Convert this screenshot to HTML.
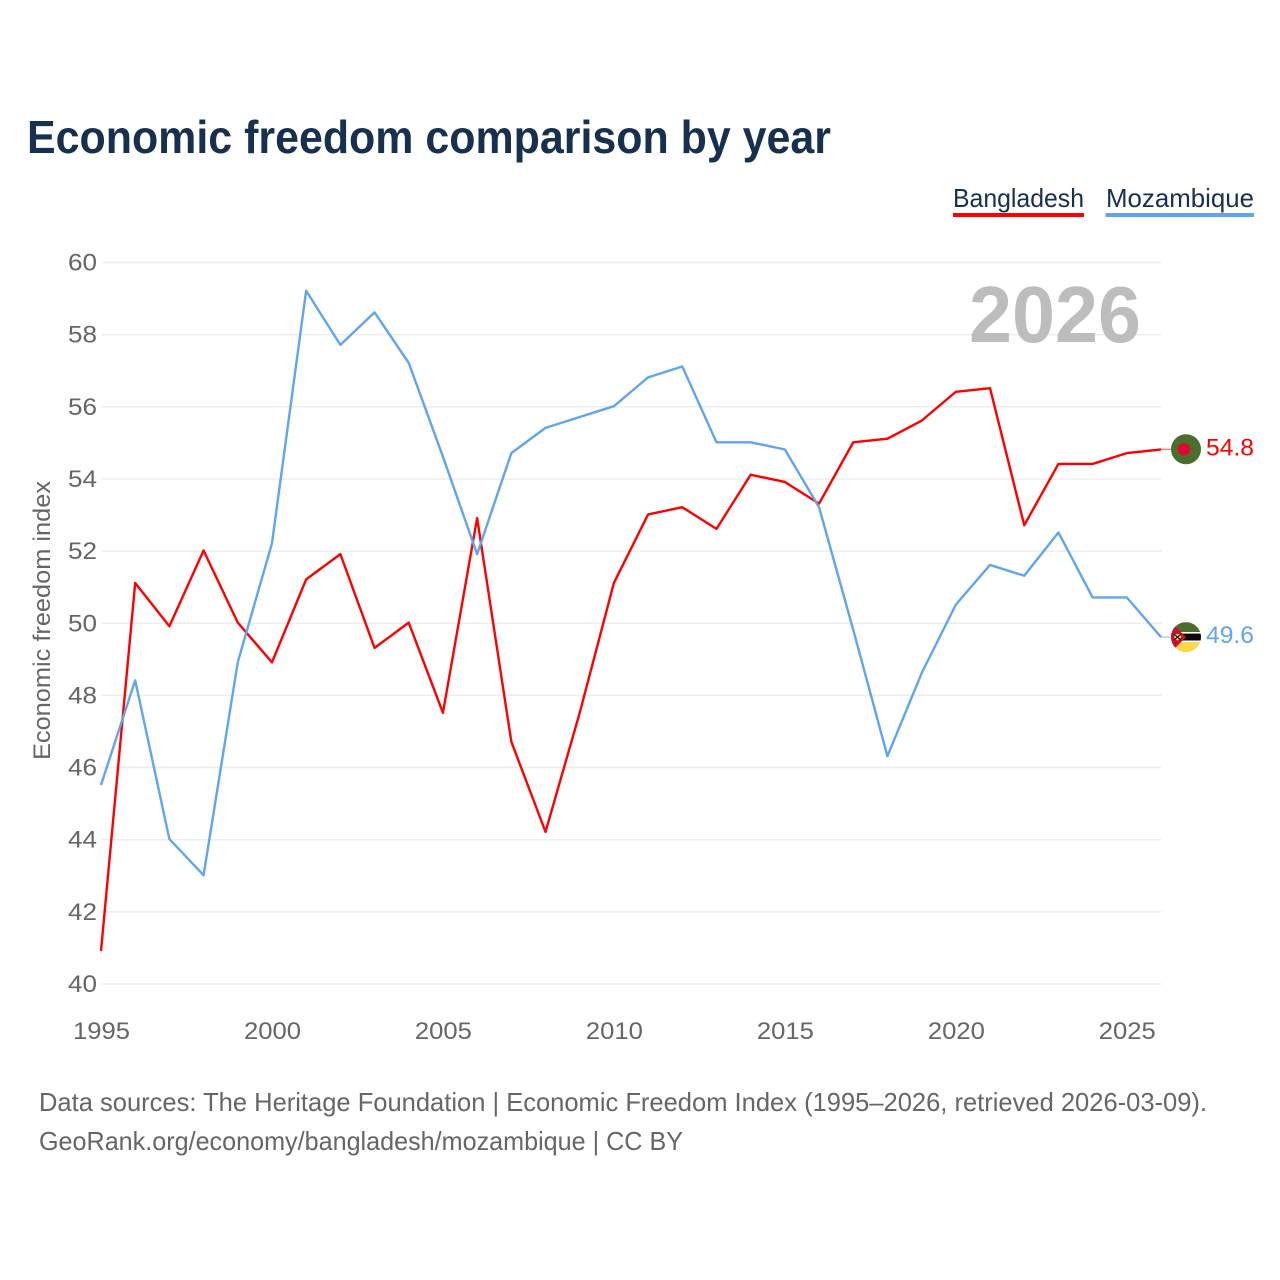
<!DOCTYPE html>
<html>
<head>
<meta charset="utf-8">
<title>Economic freedom comparison by year</title>
<style>
html,body{margin:0;padding:0;background:#fff;}
svg{display:block;}
text{font-family:"Liberation Sans",sans-serif;}
</style>
</head>
<body>
<svg id="chart" xmlns="http://www.w3.org/2000/svg" width="1280" height="1280" viewBox="0 0 1280 1280">
  <rect width="1280" height="1280" fill="#ffffff"/>
  <text x="27" y="153" font-size="46" font-weight="700" fill="#18304f" textLength="804" lengthAdjust="spacingAndGlyphs">Economic freedom comparison by year</text>
  <g>
    <text x="953" y="207" font-size="26" fill="#18304f" textLength="131" lengthAdjust="spacingAndGlyphs">Bangladesh</text>
    <rect x="953" y="213" width="131" height="4" fill="#ff0000"/>
  </g>
  <g>
    <text x="1106" y="207" font-size="26" fill="#18304f" textLength="148" lengthAdjust="spacingAndGlyphs">Mozambique</text>
    <rect x="1105.5" y="213" width="148.5" height="4" fill="#60a5ee"/>
  </g>
  <g id="grid"></g>
  <g id="yticks"></g>
  <g id="xticks"></g>
  <text transform="translate(50,620.5) rotate(-90)" text-anchor="middle" font-size="24" fill="#666666" textLength="279" lengthAdjust="spacingAndGlyphs">Economic freedom index</text>
  <text x="969" y="342" font-size="80" font-weight="700" fill="#bdbdbd" textLength="172" lengthAdjust="spacingAndGlyphs">2026</text>
  <g id="series"></g>
  <g id="ends"></g>
  <text x="39" y="1111" font-size="26" fill="#666666" textLength="1168" lengthAdjust="spacingAndGlyphs">Data sources: The Heritage Foundation | Economic Freedom Index (1995–2026, retrieved 2026-03-09).</text>
  <text x="39" y="1150" font-size="26" fill="#666666" textLength="644" lengthAdjust="spacingAndGlyphs">GeoRank.org/economy/bangladesh/mozambique | CC BY</text>
</svg>
<script>
var years = [1995,1996,1997,1998,1999,2000,2001,2002,2003,2004,2005,2006,2007,2008,2009,2010,2011,2012,2013,2014,2015,2016,2017,2018,2019,2020,2021,2022,2023,2024,2025,2026];
var bangladeshValues = [40.9,51.1,49.9,52,50,48.9,51.2,51.9,49.3,50,47.5,52.9,46.7,44.2,47.5,51.1,53,53.2,52.6,54.1,53.9,53.3,55,55.1,55.6,56.4,56.5,52.7,54.4,54.4,54.7,54.8];
var mozambiqueValues = [45.5,48.4,44,43,48.9,52.2,59.2,57.7,58.6,57.2,54.6,51.9,54.7,55.4,55.7,56,56.8,57.1,55,55,54.8,53.2,49.8,46.3,48.6,50.5,51.6,51.3,52.5,50.7,50.7,49.6];
var yTickLabels = [40,42,44,46,48,50,52,54,56,58,60];
var xTickLabels = [1995,2000,2005,2010,2015,2020,2025];

var NS = 'http://www.w3.org/2000/svg';
function xScale(year){ return 101.5 + (year - 1995) * (1060 / 31); }
function yScale(v){ return 984 - (v - 40) * (721.5 / 20); }
function make(tag, attrs, parent){
  var el = document.createElementNS(NS, tag);
  for (var k in attrs) el.setAttribute(k, attrs[k]);
  parent.appendChild(el);
  return el;
}

var grid = document.getElementById('grid');
var yticks = document.getElementById('yticks');
yTickLabels.forEach(function(v){
  var line = make('line', {x1:101.5, x2:1161.5, y1:yScale(v), y2:yScale(v), stroke:'#ededed', 'stroke-width':1.5}, grid);
  
  
  var t = make('text', {x:97, y:yScale(v) + 8, 'text-anchor':'end', 'font-size':24, fill:'#666666', textLength:29, lengthAdjust:'spacingAndGlyphs'}, yticks);
  
  
  t.textContent = v;
});

var xticks = document.getElementById('xticks');
xTickLabels.forEach(function(y){
  var t = make('text', {x:xScale(y), y:1039, 'text-anchor':'middle', 'font-size':24, fill:'#666666', textLength:57, lengthAdjust:'spacingAndGlyphs'}, xticks);
  
  
  t.textContent = y;
});

function pathFor(values){
  return values.map(function(v, i){
    return (i ? 'L' : 'M') + (xScale(years[i]) - 0.5).toFixed(2) + ' ' + (yScale(v) - 0.6).toFixed(2);
  }).join(' ');
}
var seriesGroup = document.getElementById('series');
var bdLine = make('path', {d:pathFor(bangladeshValues), fill:'none', stroke:'#ff0000', 'stroke-width':2.4, 'stroke-linejoin':'round'}, seriesGroup);


var mzLine = make('path', {d:pathFor(mozambiqueValues), fill:'none', stroke:'#60a5ee', 'stroke-width':2.4, 'stroke-linejoin':'round'}, seriesGroup);



var ends = document.getElementById('ends');
var lastIdx = years.length - 1;
var bdY = yScale(bangladeshValues[lastIdx]) - 0.8;
var mzY = yScale(mozambiqueValues[lastIdx]) - 0.6;

var bdStub = make('line', {x1:1161, x2:1171, y1:bdY, y2:bdY, stroke:'#ff0000', 'stroke-width':1, opacity:0.7}, ends);


var mzStub = make('line', {x1:1161, x2:1171, y1:mzY, y2:mzY, stroke:'#60a5ee', 'stroke-width':1, opacity:0.7}, ends);



var bdFlag = make('g', {transform:'translate(1186,' + bdY + ')'}, ends);


make('circle', {r:15, cx:0, cy:0, fill:'#4b6d2e'}, bdFlag);
make('circle', {r:6.3, cx:-2, cy:0, fill:'#dc0a32'}, bdFlag);

var bdLabel = make('text', {x:1206, y:bdY + 6, 'font-size':24, fill:'#ff0000', textLength:48, lengthAdjust:'spacingAndGlyphs'}, ends);


bdLabel.textContent = bangladeshValues[lastIdx].toFixed(1);

var mzFlag = make('g', {transform:'translate(1186,' + mzY + ')'}, ends);


var clip = make('clipPath', {id:'mzClip'}, mzFlag);
make('circle', {r:15, cx:0, cy:0}, clip);
var mzInner = make('g', {'clip-path':'url(#mzClip)'}, mzFlag);
make('rect', {x:-15, y:-15, width:30, height:10, fill:'#4b6d2e'}, mzInner);
make('rect', {x:-15, y:-5, width:30, height:1.5, fill:'#ffffff'}, mzInner);
make('rect', {x:-15, y:-3.5, width:30, height:7, fill:'#0a0a0a'}, mzInner);
make('rect', {x:-15, y:3.5, width:30, height:1.5, fill:'#ffffff'}, mzInner);
make('rect', {x:-15, y:5, width:30, height:10, fill:'#fdd64a'}, mzInner);
make('polygon', {points:'-15,-15 0,0 -15,15', fill:'#c8102e'}, mzInner);
make('polygon', {points:'-11,-3 -6,-3 -4.5,0 -8.5,3.5 -12,0', fill:'#f5d75a'}, mzInner);
make('path', {d:'M-12 -3 L-5 3 M-5 -3 L-12 3', stroke:'#111111', 'stroke-width':1.2, fill:'none'}, mzInner);

var mzLabel = make('text', {x:1206, y:mzY + 6, 'font-size':24, fill:'#60a5ee', textLength:48, lengthAdjust:'spacingAndGlyphs'}, ends);


mzLabel.textContent = mozambiqueValues[lastIdx].toFixed(1);
</script>
</body>
</html>
